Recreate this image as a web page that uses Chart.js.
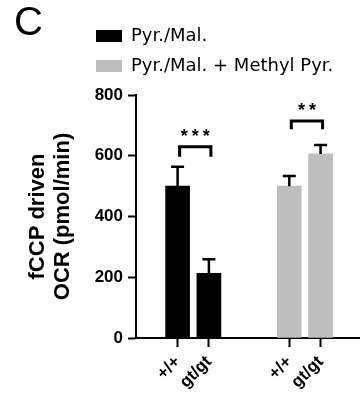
<!DOCTYPE html>
<html><head><meta charset="utf-8">
<script src="https://cdn.jsdelivr.net/npm/chart.js@4"></script>
<style>html,body{margin:0;padding:0;background:#fff}#wrap{width:360px;height:402px}</style>
</head><body><div id="wrap"><canvas id="c" width="360" height="402"></canvas></div>
<script>
// ---- data ----
const panelLetter = 'C';
const seriesNames = ['Pyr./Mal.', 'Pyr./Mal. + Methyl Pyr.'];
const genotypes = ['+/+', 'gt/gt'];
const meanPyrMal = [500, 213];
const semPyrMal = [64, 46];
const meanMethylPyr = [500, 606];
const semMethylPyr = [33, 29];
const sigLabels = ['***', '**'];
const sigBracketY = [630, 714];
const sigLegBottomY = [597, 687];
const yTickStep = 200;
const yMax = 800;
const yTitle = ['fCCP driven', 'OCR (pmol/min)'];

// ---- layout ----
const X_OFFSET = 1.33, GROUP_STEP = 3.57, X_MAX = 7.16;
const pos = (g, i) => X_OFFSET + g * GROUP_STEP + i;
const colors = ['#000000', '#bebebe'];
const seriesMeans = [meanPyrMal, meanMethylPyr];
const seriesSems = [semPyrMal, semMethylPyr];

const tickPositions = [], tickTexts = [];
seriesMeans.forEach((m, gi) => genotypes.forEach((t, i) => { tickPositions.push(pos(gi, i)); tickTexts.push(t); }));

const datasets = seriesNames.map((name, gi) => ({
  label: name,
  data: seriesMeans[gi].map((v, i) => ({x: pos(gi, i), y: v})),
  backgroundColor: colors[gi],
  borderWidth: 0,
  barThickness: 24,
  grouped: false
}));

const ARIAL = "'Liberation Sans', Arial, sans-serif";

const shiftLegend = {
  id: 'shiftLegend',
  afterLayout(chart) {
    const lg = chart.legend;
    lg.left += 70; lg.right += 70;
    lg.top -= 10; lg.bottom -= 10;
  }
};

const errorBars = {
  id: 'errorBars',
  afterDatasetsDraw(chart) {
    const {ctx, scales: {y}} = chart;
    ctx.save();
    ctx.strokeStyle = '#000';
    ctx.lineWidth = 2.5;
    seriesMeans.forEach((means, di) => {
      const meta = chart.getDatasetMeta(di);
      means.forEach((m, i) => {
        const px = meta.data[i].x;
        const yTop = y.getPixelForValue(m + seriesSems[di][i]);
        const yBase = y.getPixelForValue(m);
        ctx.beginPath();
        ctx.moveTo(px, yBase); ctx.lineTo(px, yTop);
        ctx.moveTo(px - 6.5, yTop); ctx.lineTo(px + 6.5, yTop);
        ctx.stroke();
      });
    });
    ctx.restore();
  }
};

const significance = {
  id: 'significance',
  afterDatasetsDraw(chart) {
    const {ctx, scales: {y}} = chart;
    ctx.save();
    ctx.strokeStyle = '#000';
    ctx.fillStyle = '#000';
    ctx.lineWidth = 3;
    ctx.lineJoin = 'miter';
    sigLabels.forEach((lab, gi) => {
      const meta = chart.getDatasetMeta(gi);
      const left = meta.data[0].x + 2, right = meta.data[1].x + 2;
      const yb = y.getPixelForValue(sigBracketY[gi]);
      const yl = y.getPixelForValue(sigLegBottomY[gi]);
      ctx.beginPath();
      ctx.moveTo(left, yl); ctx.lineTo(left, yb); ctx.lineTo(right, yb); ctx.lineTo(right, yl);
      ctx.stroke();
      ctx.font = 'bold 18px ' + ARIAL;
      ctx.textAlign = 'center';
      ctx.textBaseline = 'alphabetic';
      const sp = 4;
      if ('letterSpacing' in ctx) ctx.letterSpacing = sp + 'px';
      ctx.fillText(lab, (left + right) / 2 + sp / 2, yb - 15 + 10);
    });
    ctx.restore();
  }
};

new Chart(document.getElementById('c'), {
  type: 'bar',
  data: {datasets},
  plugins: [shiftLegend, errorBars, significance],
  options: {
    responsive: false,
    animation: false,
    events: [],
    devicePixelRatio: 1,
    layout: {padding: {left: 14, top: 0, right: 0, bottom: 0}},
    plugins: {
      title: {
        display: true, text: panelLetter, align: 'start', color: '#000',
        font: {family: ARIAL, size: 40, weight: 'normal', lineHeight: 1},
        padding: {top: 4, bottom: -19}
      },
      legend: {
        display: true, position: 'top', align: 'start',
        labels: {
          color: '#000', boxWidth: 26, boxHeight: 12, padding: 12,
          font: {family: "'DejaVu Sans', sans-serif", size: 18, weight: 'normal'}
        }
      },
      tooltip: {enabled: false}
    },
    scales: {
      x: {
        type: 'linear', min: 0, max: X_MAX, offset: false,
        afterBuildTicks(scale) { scale.ticks = tickPositions.map(v => ({value: v})); },
        afterFit(scale) { scale.height = 64; },
        grid: {display: true, offset: false, drawOnChartArea: false, drawTicks: true, tickLength: 9, tickWidth: 2, tickColor: '#000'},
        border: {display: true, color: '#000', width: 2},
        ticks: {
          autoSkip: false, minRotation: 45, maxRotation: 45, padding: 5, color: '#000',
          font: {family: ARIAL, size: 17, weight: 'bold'},
          callback: (v, i) => tickTexts[i]
        }
      },
      y: {
        min: 0, max: yMax,
        afterFit(scale) { scale.width = 122; },
        grid: {display: true, drawOnChartArea: false, drawTicks: true, tickLength: 8, tickWidth: 2, tickColor: '#000'},
        border: {display: true, color: '#000', width: 2},
        ticks: {stepSize: yTickStep, padding: 5, color: '#000', font: {family: ARIAL, size: 17, weight: 'bold'}},
        title: {
          display: true, text: yTitle, color: '#000',
          font: {family: ARIAL, size: 22, weight: 'bold', lineHeight: 1.17},
          padding: {top: 10.6, bottom: 0}
        }
      }
    }
  }
});
</script>
</body></html>
